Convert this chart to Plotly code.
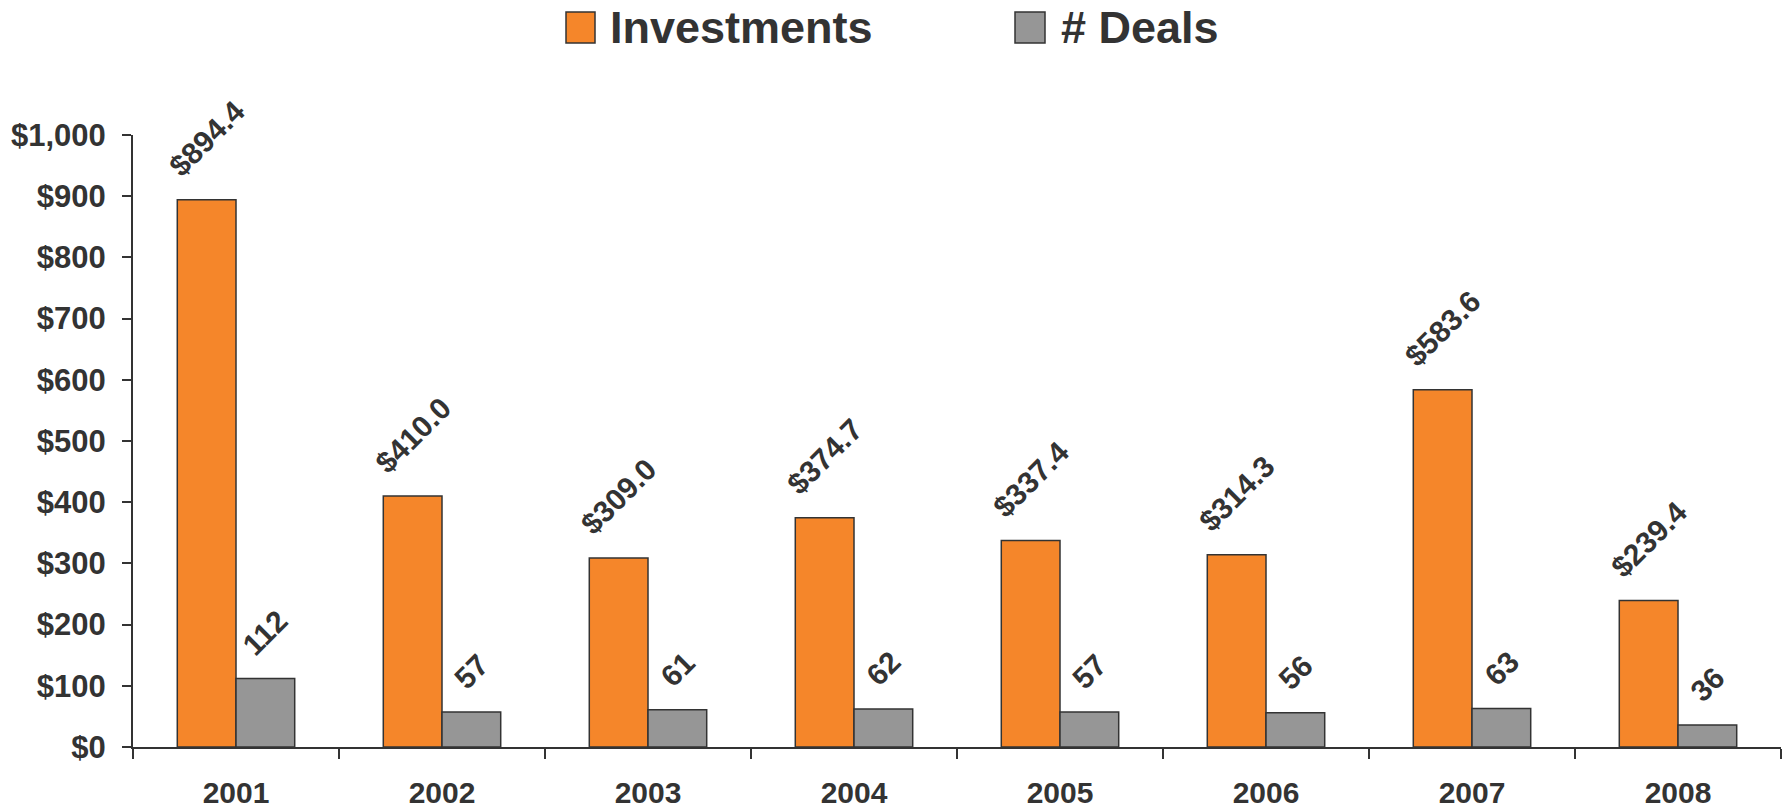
import plotly.graph_objects as go

# Annual venture figures
years = ["2001", "2002", "2003", "2004", "2005", "2006", "2007", "2008"]
investments = [894.4, 410.0, 309.0, 374.7, 337.4, 314.3, 583.6, 239.4]
deals = [112, 57, 61, 62, 57, 56, 63, 36]
y_ticks = [0, 100, 200, 300, 400, 500, 600, 700, 800, 900, 1000]
y_tick_labels = ["$0", "$100", "$200", "$300", "$400", "$500", "$600",
                 "$700", "$800", "$900", "$1,000"]

ORANGE = "#F5862A"
GREY = "#969696"
INK = "#333333"
FONT = "Liberation Sans"

W, H = 1789, 810
M_L, M_R, M_T, M_B = 133, 8, 135, 63
plot_w = W - M_L - M_R
plot_h = H - M_T - M_B
BARGAP = 0.43
# half the width of one bar, in category units, used to centre value labels
half_bar = (1 - BARGAP) / 4


def px_x(x):
    return (x - M_L) / plot_w


def px_y(y):
    return (H - M_B - y) / plot_h


label_font = dict(family=FONT, size=30, color=INK, weight="bold")

fig = go.Figure()
fig.add_trace(go.Bar(
    name="Investments", x=years, y=investments,
    marker=dict(color=ORANGE, line=dict(color=INK, width=1.5)),
))
fig.add_trace(go.Bar(
    name="# Deals", x=years, y=deals,
    marker=dict(color=GREY, line=dict(color=INK, width=1.5)),
))

# Rotated value labels sitting above each bar (x given as category index)
for i, (inv, dl) in enumerate(zip(investments, deals)):
    fig.add_annotation(x=i - half_bar, y=inv, text=f"${inv:.1f}", textangle=-45,
                       yshift=14, xanchor="center", yanchor="bottom",
                       showarrow=False, font=label_font)
    fig.add_annotation(x=i + half_bar, y=dl, text=f"{dl}", textangle=-45,
                       yshift=14, xanchor="center", yanchor="bottom",
                       showarrow=False, font=label_font)

# Legend drawn as large swatches with bold captions above the plot
legend_items = [("Investments", ORANGE, 566, 595, 608),
                ("# Deals", GREY, 1015, 1045, 1059)]
for name, color, sx0, sx1, tx in legend_items:
    fig.add_shape(type="rect", xref="paper", yref="paper",
                  x0=px_x(sx0), x1=px_x(sx1), y0=px_y(43), y1=px_y(12),
                  fillcolor=color, line=dict(color=INK, width=1.5))
    fig.add_annotation(text=name, xref="paper", yref="paper",
                       x=px_x(tx), y=px_y(28), xanchor="left", yanchor="middle",
                       showarrow=False,
                       font=dict(family=FONT, size=45, color=INK, weight="bold"))

fig.update_layout(
    width=W, height=H,
    margin=dict(l=M_L, r=M_R, t=M_T, b=M_B, autoexpand=False),
    paper_bgcolor="white", plot_bgcolor="white",
    barmode="group", bargap=BARGAP, bargroupgap=0,
    showlegend=False,
    font=dict(family=FONT, color=INK),
)
fig.update_xaxes(
    type="category", categoryorder="array", categoryarray=years,
    range=[-0.5, len(years) - 0.5],
    showline=True, linecolor=INK, linewidth=2,
    ticks="outside", tickson="boundaries", ticklen=10, tickwidth=2, tickcolor=INK,
    tickfont=dict(family=FONT, size=30, color=INK, weight="bold"),
    ticklabelstandoff=18, tickangle=0,
    showgrid=False, zeroline=False, automargin=False,
)
fig.update_yaxes(
    range=[0, 1000], tickvals=y_ticks, ticktext=y_tick_labels,
    showline=True, linecolor=INK, linewidth=2,
    ticks="outside", ticklen=9, tickwidth=2, tickcolor=INK,
    tickfont=dict(family=FONT, size=31, color=INK, weight="bold"),
    ticklabelstandoff=10, showgrid=False, zeroline=False, automargin=False,
)

fig.write_html("out.html")
